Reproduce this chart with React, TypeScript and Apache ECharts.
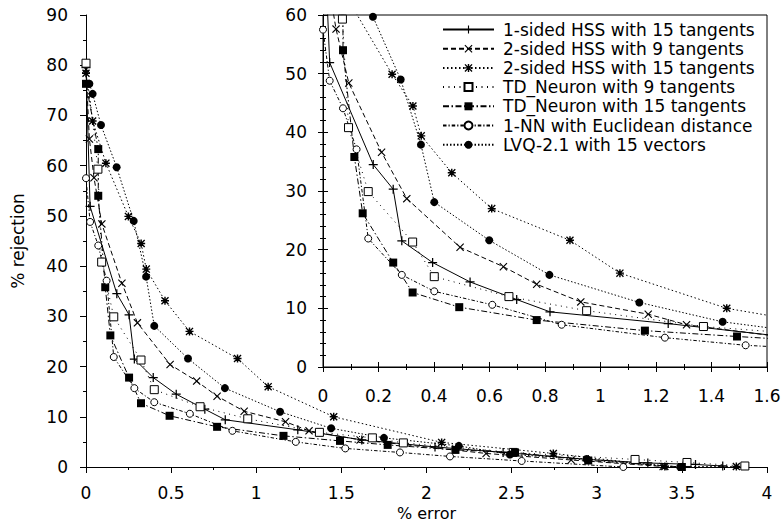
import React, { useEffect, useRef } from "react";
import * as echarts from "echarts";

// Rejection rate (%) against error rate (%) for several classifiers.
const seriesNames = [
  "1-sided HSS with 15 tangents",
  "2-sided HSS with 9 tangents",
  "2-sided HSS with 15 tangents",
  "TD_Neuron with 9 tangents",
  "TD_Neuron with 15 tangents",
  "1-NN with Euclidean distance",
  "LVQ-2.1 with 15 vectors",
];

const hss1Err = [0.0, 0.024, 0.181, 0.253, 0.284, 0.395, 0.53, 0.698, 0.818, 1.244, 1.62, 2.05, 2.45, 2.95, 3.3, 3.58, 3.74];
const hss1Rej = [79.5, 51.9, 34.5, 30.3, 21.5, 17.8, 14.5, 11.5, 9.4, 7.4, 5.4, 4.0, 2.9, 1.5, 0.8, 0.5, 0.2];

const hss2t9Err = [0.0, 0.02, 0.047, 0.093, 0.211, 0.302, 0.494, 0.65, 0.77, 0.929, 1.172, 1.31, 1.61, 2.35, 2.85, 3.39];
const hss2t9Rej = [79.2, 65.3, 57.6, 48.4, 36.6, 28.7, 20.4, 17.1, 14.1, 11.1, 9.0, 7.2, 5.4, 2.7, 1.4, 0.1];

const hss2t15Err = [0.0, 0.039, 0.117, 0.249, 0.324, 0.354, 0.464, 0.608, 0.89, 1.07, 1.455, 2.089, 2.745, 3.4, 3.82];
const hss2t15Rej = [78.4, 68.9, 60.5, 49.9, 44.5, 39.4, 33.1, 27.0, 21.6, 16.0, 10.0, 4.9, 2.7, 0.1, 0.1];

const td9Err = [0.0, 0.07, 0.092, 0.163, 0.323, 0.401, 0.67, 0.95, 1.371, 1.682, 1.864, 2.51, 3.225, 3.53, 3.87];
const td9Rej = [80.4, 59.3, 40.8, 29.9, 21.3, 15.4, 12.0, 9.6, 6.9, 5.8, 4.8, 2.9, 1.5, 0.9, 0.2];

const td15Err = [0.0, 0.072, 0.072, 0.113, 0.143, 0.253, 0.323, 0.491, 0.77, 1.16, 1.492, 1.772, 2.17, 2.52, 2.95, 3.5];
const td15Rej = [76.3, 63.3, 54.0, 35.8, 26.2, 17.8, 12.7, 10.2, 8.0, 6.2, 5.2, 4.4, 3.4, 2.9, 1.3, 0.0];

const nnErr = [0.0, 0.024, 0.072, 0.121, 0.163, 0.284, 0.401, 0.61, 0.86, 1.232, 1.523, 1.844, 2.138, 2.559, 3.156];
const nnRej = [57.5, 48.8, 44.1, 37.1, 21.9, 15.7, 12.9, 10.6, 7.2, 5.0, 3.7, 2.9, 2.1, 1.2, 0.0];

const lvqErr = [0.02, 0.039, 0.088, 0.18, 0.28, 0.353, 0.401, 0.599, 0.816, 1.14, 1.44, 1.75, 2.19, 2.49, 2.94, 3.49];
const lvqRej = [76.3, 74.3, 68.1, 59.7, 49.0, 37.9, 28.1, 21.6, 15.7, 11.0, 7.7, 5.8, 4.2, 2.5, 1.6, 0.0];

const FONT = "DejaVu Sans";
const INK = "#000";

// Marker glyphs (all sub-paths share one winding so overlaps stay filled)
const PLUS = "path://M4.3,0H5.7V10H4.3Z M0,4.3H10V5.7H0Z";
const CROSS = "path://M0,1L1,0L5,4L9,0L10,1L6,5L10,9L9,10L5,6L1,10L0,9L4,5Z";
const STAR =
  "path://M0,1.2L1.2,0L5,3.8L8.8,0L10,1.2L6.2,5L10,8.8L8.8,10L5,6.2L1.2,10L0,8.8L3.8,5Z M4.1,0H5.9V10H4.1Z M0,4.1H10V5.9H0Z";

const pairs = (xs: number[], ys: number[]) => xs.map((x, i) => [x, ys[i]]);

const styles = [
  { x: hss1Err, y: hss1Rej, symbol: PLUS, size: 9, fill: INK, border: 0, dash: "solid" as any },
  { x: hss2t9Err, y: hss2t9Rej, symbol: CROSS, size: 8, fill: INK, border: 0, dash: [5, 3] },
  { x: hss2t15Err, y: hss2t15Rej, symbol: STAR, size: 8, fill: INK, border: 0, dash: [1.5, 2.5] },
  { x: td9Err, y: td9Rej, symbol: "rect", size: 8, fill: "#fff", border: 1, dash: [1, 4.5] },
  { x: td15Err, y: td15Rej, symbol: "rect", size: 8, fill: INK, border: 0, dash: [6, 2.5, 1.5, 2.5] },
  { x: nnErr, y: nnRej, symbol: "circle", size: 7, fill: "#fff", border: 1, dash: [3.5, 2, 1.2, 2] },
  { x: lvqErr, y: lvqRej, symbol: "circle", size: 8, fill: INK, border: 0, dash: [1.5, 2] },
];

function buildSeries(axisIdx: number, z: number) {
  return styles.map((s, i) => ({
    type: "line",
    name: seriesNames[i],
    xAxisIndex: axisIdx,
    yAxisIndex: axisIdx,
    data: pairs(s.x, s.y),
    symbol: s.symbol,
    symbolSize: s.size,
    showAllSymbol: true,
    clip: true,
    silent: true,
    z,
    lineStyle: { color: INK, width: 1, type: s.dash },
    itemStyle: { color: s.fill, borderColor: INK, borderWidth: s.border },
    emphasis: { disabled: true },
  }));
}

const labelStyle = { fontFamily: FONT, fontSize: 17, color: INK };
const lineStyle = { color: INK, width: 1 };

export default function App() {
  const ref = useRef<HTMLDivElement>(null);

  useEffect(() => {
    if (!ref.current) return;
    const chart = echarts.init(ref.current, undefined, { renderer: "svg" });
    chart.setOption({
      animation: false,
      backgroundColor: "#fff",
      grid: [
        { left: 86, right: 17, top: 15, bottom: 55, z: 0, outerBoundsMode: "none", containLabel: false },
        {
          left: 323,
          right: 17,
          top: 15,
          bottom: 155,
          show: true,
          backgroundColor: "#fff",
          borderColor: INK,
          borderWidth: 1,
          z: 5,
          outerBoundsMode: "none",
          containLabel: false,
        },
      ],
      xAxis: [
        {
          gridIndex: 0,
          type: "value",
          min: 0,
          max: 4,
          interval: 0.5,
          z: 1,
          axisLine: { lineStyle },
          axisTick: { length: 6, lineStyle },
          minorTick: { show: true, splitNumber: 2, length: 3, lineStyle },
          splitLine: { show: false },
          axisLabel: { ...labelStyle, margin: 17 },
          name: "% error",
          nameLocation: "middle",
          nameGap: 30,
          nameTextStyle: { ...labelStyle, fontSize: 16, lineHeight: 16 },
        },
        {
          gridIndex: 1,
          type: "value",
          min: 0,
          max: 1.6,
          interval: 0.2,
          z: 6,
          axisLine: { lineStyle },
          axisTick: { inside: true, length: 5, lineStyle },
          minorTick: { show: true, splitNumber: 2, length: 3, lineStyle },
          splitLine: { show: false },
          axisLabel: { ...labelStyle, margin: 20 },
        },
        {
          gridIndex: 1,
          type: "value",
          position: "top",
          min: 0,
          max: 1.6,
          interval: 0.2,
          z: 6,
          axisLine: { lineStyle },
          axisTick: { inside: true, length: 5, lineStyle },
          minorTick: { show: true, splitNumber: 2, length: 3, lineStyle },
          splitLine: { show: false },
          axisLabel: { show: false },
        },
      ],
      yAxis: [
        {
          gridIndex: 0,
          type: "value",
          min: 0,
          max: 90,
          interval: 10,
          z: 1,
          axisLine: { show: true, lineStyle },
          axisTick: { show: true, length: 6, lineStyle },
          minorTick: { show: true, splitNumber: 2, length: 3, lineStyle },
          splitLine: { show: false },
          axisLabel: { ...labelStyle, margin: 18 },
          name: "% rejection",
          nameLocation: "middle",
          nameGap: 60,
          nameRotate: 90,
          nameTextStyle: { ...labelStyle, lineHeight: 17 },
        },
        {
          gridIndex: 1,
          type: "value",
          min: 0,
          max: 60,
          interval: 10,
          z: 6,
          axisLine: { show: true, lineStyle },
          axisTick: { show: true, inside: true, length: 5, lineStyle },
          minorTick: { show: true, splitNumber: 5, length: 3, lineStyle },
          splitLine: { show: false },
          axisLabel: { ...labelStyle, margin: 16 },
        },
        {
          gridIndex: 1,
          type: "value",
          position: "right",
          min: 0,
          max: 60,
          interval: 10,
          z: 6,
          axisLine: { show: true, lineStyle },
          axisTick: { show: true, inside: true, length: 5, lineStyle },
          minorTick: { show: true, splitNumber: 5, length: 3, lineStyle },
          splitLine: { show: false },
          axisLabel: { show: false },
        },
      ],
      legend: {
        data: seriesNames,
        orient: "vertical",
        left: 442,
        top: 21,
        padding: 0,
        itemWidth: 51,
        itemHeight: 10,
        itemGap: 2.2,
        selectedMode: false,
        z: 8,
        textStyle: { ...labelStyle, lineHeight: 17, padding: [0, 0, 0, 4] },
      },
      series: [...buildSeries(0, 2), ...buildSeries(1, 7)],
    });
    return () => chart.dispose();
  }, []);

  return (
    <div
      ref={ref}
      style={{ position: "fixed", left: 0, top: 0, width: 784, height: 522, background: "#fff" }}
    />
  );
}
